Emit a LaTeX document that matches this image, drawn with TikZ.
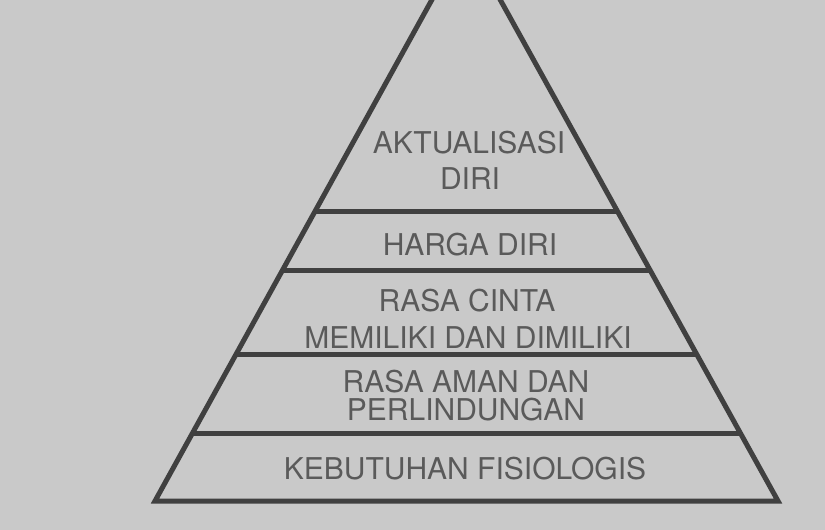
\documentclass[tikz,border=0pt]{standalone}
\usepackage{fontspec}
\setmainfont{TeX Gyre Heros}
\usetikzlibrary{calc}
\definecolor{paper}{HTML}{C9C9C9}
\definecolor{ink}{HTML}{404040}
\definecolor{txt}{HTML}{5A5A5A}
\tikzset{
  edge/.style={draw=ink, line width=5pt, line join=miter},
  lvl/.style={text=txt, inner sep=0pt, anchor=base, font=\fontsize{30}{36}\selectfont}
}
\begin{document}
\begin{tikzpicture}[x=1pt,y=-1pt]
\fill[paper] (0,0) rectangle (825,530);
\useasboundingbox (0,0) rectangle (825,530);
\coordinate (A) at (466,-62);
\coordinate (L) at (155,501);
\coordinate (R) at (778,501);
\begin{scope}
\clip (0,0) rectangle (825,530);
\draw[edge] (A) -- (L) -- (R) -- cycle;
\end{scope}
\foreach \y/\n in {212/a,271/b,355/c,433/d}{
  \coordinate (l\n) at ($(A)!{(\y+62)/563}!(L)$);
  \coordinate (r\n) at ($(A)!{(\y+62)/563}!(R)$);
  \draw[edge] (l\n) -- (r\n);
}
\node[lvl] (t1) at (469,153) {AKTUALISASI};
\node[lvl] (t2) at (470,189) {DIRI};
\node[lvl] (t3) at (470,255) {HARGA DIRI};
\node[lvl] (t4) at (467,311) {RASA CINTA};
\node[lvl] (t5) at (468,348) {MEMILIKI DAN DIMILIKI};
\node[lvl] (t6) at (466,392) {RASA AMAN DAN};
\node[lvl] (t7) at (466,420) {PERLINDUNGAN};
\node[lvl] (t8) at (465,479) {KEBUTUHAN FISIOLOGIS};
\end{tikzpicture}
\end{document}
